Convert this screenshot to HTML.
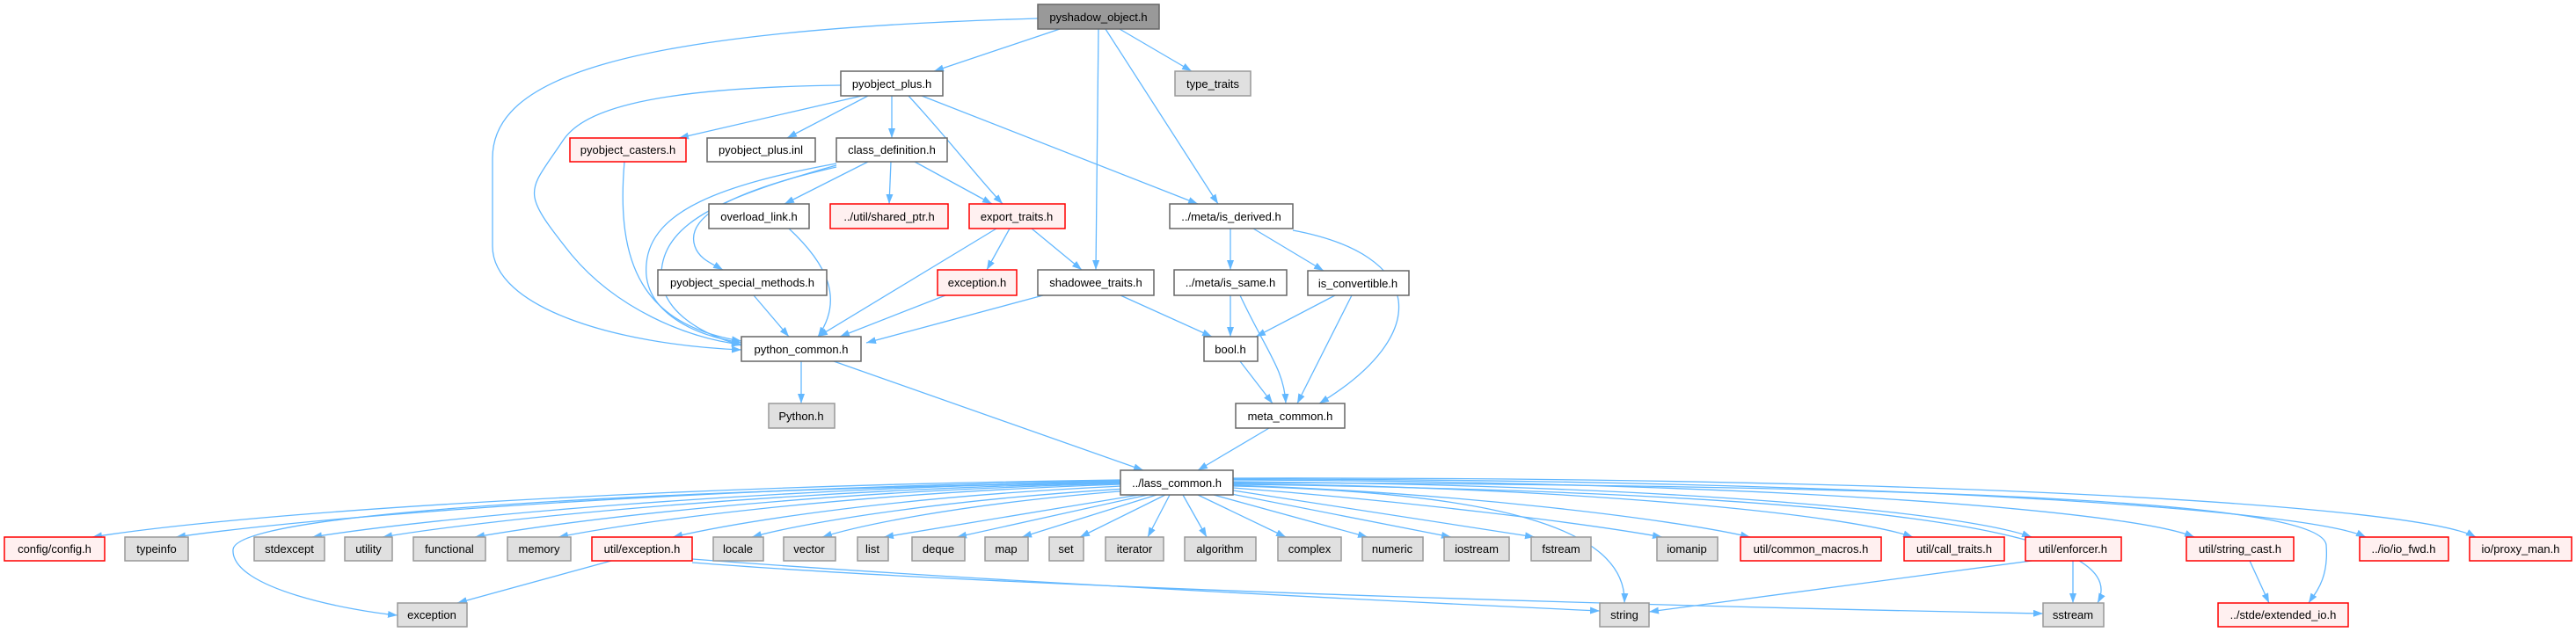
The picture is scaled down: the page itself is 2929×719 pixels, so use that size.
<!DOCTYPE html>
<html><head><meta charset="utf-8"><style>
html,body{margin:0;padding:0;background:#fff;}
svg{display:block;}
text{font-family:"Liberation Sans",sans-serif;font-size:13px;text-anchor:middle;fill:#000;}
.e{fill:none;stroke:#63b8ff;stroke-width:1.3;marker-end:url(#a);}
.n{fill:#fff;stroke:#666;stroke-width:1.5;}
.g{fill:#e0e0e0;stroke:#999;stroke-width:1.5;}
.r{fill:#fff0f0;stroke:#f00;stroke-width:1.5;}
.d{fill:#999;stroke:#666;stroke-width:1.5;}
</style></head><body>
<svg width="2929" height="719" viewBox="0 0 2929 719" xmlns="http://www.w3.org/2000/svg">
<defs><marker id="a" markerWidth="11" markerHeight="8" refX="11" refY="4" orient="auto" markerUnits="userSpaceOnUse"><path d="M0,0 L11,4 L0,8 z" fill="#63b8ff"/></marker></defs>
<g>
<path class="e" d="M1205,33 L1062,81"/>
<path class="e" d="M1273,33 L1355,81"/>
<path class="e" d="M1249,33 L1246,307"/>
<path class="e" d="M1257,33 L1385,232"/>
<path class="e" d="M1180,21 C700,35 560,90 560,180 L560,280 C560,350 700,392 843,398"/>
<path class="e" d="M956,97 C720,100 660,130 640,160 C600,220 590,215 650,290 C700,350 780,385 843,392"/>
<path class="e" d="M710,184 C700,300 730,370 843,388"/>
<path class="e" d="M980,109 L772,157"/>
<path class="e" d="M987,109 L895,157"/>
<path class="e" d="M1014,109 L1014,157"/>
<path class="e" d="M1033,109 C1080,160 1110,200 1140,232"/>
<path class="e" d="M1048,109 L1362,232"/>
<path class="e" d="M987,184 L892,232"/>
<path class="e" d="M1013,184 L1011,232"/>
<path class="e" d="M1040,184 L1128,232"/>
<path class="e" d="M951,190 C820,220 780,250 790,280 C795,295 810,300 822,307"/>
<path class="e" d="M951,186 C820,210 740,240 735,300 C730,350 780,380 843,390"/>
<path class="e" d="M951,188 C830,222 755,250 752,310 C750,350 790,378 843,393"/>
<path class="e" d="M897,260 C940,300 960,340 930,383"/>
<path class="e" d="M857,336 L897,383"/>
<path class="e" d="M1133,260 L930,383"/>
<path class="e" d="M1148,260 L1122,307"/>
<path class="e" d="M1173,260 L1230,307"/>
<path class="e" d="M1075,336 L955,383"/>
<path class="e" d="M1186,336 L985,390"/>
<path class="e" d="M1274,336 L1378,383"/>
<path class="e" d="M1399,260 L1399,307"/>
<path class="e" d="M1425,260 L1505,308"/>
<path class="e" d="M1470,262 C1620,290 1630,380 1500,459"/>
<path class="e" d="M1399,336 L1399,383"/>
<path class="e" d="M1410,336 C1440,400 1460,420 1462,459"/>
<path class="e" d="M1518,336 L1428,383"/>
<path class="e" d="M1537,336 L1475,459"/>
<path class="e" d="M1410,411 L1447,459"/>
<path class="e" d="M1443,487 L1362,535"/>
<path class="e" d="M911,411 L911,459"/>
<path class="e" d="M948,411 L1300,535"/>
<path class="e" d="M1274,546 C800,552 300,580 105,611"/>
<path class="e" d="M1274,547 C820,554 380,585 200,611"/>
<path class="e" d="M1274,548 C850,556 500,588 355,611"/>
<path class="e" d="M1274,549 C880,558 560,590 435,611"/>
<path class="e" d="M1274,550 C900,560 650,592 540,611"/>
<path class="e" d="M1274,551 C950,562 720,594 635,611"/>
<path class="e" d="M1276,553 C1000,566 830,596 765,611"/>
<path class="e" d="M1280,556 C1050,570 900,598 855,611"/>
<path class="e" d="M1285,558 C1080,574 970,600 935,611"/>
<path class="e" d="M1295,563 L1005,611"/>
<path class="e" d="M1305,563 L1088,611"/>
<path class="e" d="M1315,563 L1162,611"/>
<path class="e" d="M1325,563 L1228,611"/>
<path class="e" d="M1330,563 L1305,611"/>
<path class="e" d="M1345,563 L1372,611"/>
<path class="e" d="M1362,563 L1462,611"/>
<path class="e" d="M1380,563 L1555,611"/>
<path class="e" d="M1395,561 L1650,611"/>
<path class="e" d="M1402,558 L1745,611"/>
<path class="e" d="M1402,555 C1600,570 1800,595 1890,611"/>
<path class="e" d="M1402,552 C1650,560 1900,590 1990,611"/>
<path class="e" d="M1402,550 C1800,555 2100,585 2175,611"/>
<path class="e" d="M1402,548 C1900,552 2230,582 2310,611"/>
<path class="e" d="M1402,546 C2000,548 2420,580 2495,611"/>
<path class="e" d="M1402,545 C2100,545 2620,578 2690,611"/>
<path class="e" d="M1402,544 C2200,542 2750,575 2815,611"/>
<path class="e" d="M1402,553 C1700,560 1850,600 1847,686"/>
<path class="e" d="M1402,551 C2100,560 2430,600 2385,686"/>
<path class="e" d="M1402,549 C2300,552 2640,575 2645,620 C2648,660 2632,675 2625,686"/>
<path class="e" d="M1274,549 C800,556 270,580 265,625 C262,670 400,695 452,700"/>
<path class="e" d="M695,638 L520,686"/>
<path class="e" d="M787,636 C1100,660 1600,685 1819,695"/>
<path class="e" d="M787,640 C1200,672 2000,692 2323,698"/>
<path class="e" d="M2310,638 L1875,696"/>
<path class="e" d="M2357,638 L2357,686"/>
<path class="e" d="M2558,638 L2580,686"/>
</g>
<g>
<rect class="d" x="1180" y="5" width="138" height="28"/><text x="1249" y="24">pyshadow_object.h</text>
<rect class="n" x="956" y="81" width="116" height="28"/><text x="1014" y="100">pyobject_plus.h</text>
<rect class="g" x="1336" y="81" width="86" height="28"/><text x="1379" y="100">type_traits</text>
<rect class="r" x="648" y="157" width="132" height="27"/><text x="714" y="175">pyobject_casters.h</text>
<rect class="n" x="804" y="157" width="123" height="27"/><text x="865" y="175">pyobject_plus.inl</text>
<rect class="n" x="951" y="157" width="126" height="27"/><text x="1014" y="175">class_definition.h</text>
<rect class="n" x="806" y="232" width="114" height="28"/><text x="863" y="251">overload_link.h</text>
<rect class="r" x="944" y="232" width="134" height="28"/><text x="1011" y="251">../util/shared_ptr.h</text>
<rect class="r" x="1102" y="232" width="109" height="28"/><text x="1156" y="251">export_traits.h</text>
<rect class="n" x="1330" y="232" width="140" height="28"/><text x="1400" y="251">../meta/is_derived.h</text>
<rect class="n" x="748" y="307" width="192" height="29"/><text x="844" y="326">pyobject_special_methods.h</text>
<rect class="r" x="1066" y="307" width="90" height="29"/><text x="1111" y="326">exception.h</text>
<rect class="n" x="1180" y="307" width="132" height="29"/><text x="1246" y="326">shadowee_traits.h</text>
<rect class="n" x="1335" y="307" width="128" height="29"/><text x="1399" y="326">../meta/is_same.h</text>
<rect class="n" x="1487" y="308" width="115" height="28"/><text x="1544" y="327">is_convertible.h</text>
<rect class="n" x="843" y="383" width="136" height="28"/><text x="911" y="402">python_common.h</text>
<rect class="n" x="1369" y="383" width="61" height="28"/><text x="1399" y="402">bool.h</text>
<rect class="g" x="874" y="459" width="75" height="28"/><text x="911" y="478">Python.h</text>
<rect class="n" x="1405" y="459" width="124" height="28"/><text x="1467" y="478">meta_common.h</text>
<rect class="n" x="1274" y="535" width="128" height="28"/><text x="1338" y="554">../lass_common.h</text>
<rect class="r" x="5" y="611" width="114" height="27"/><text x="62" y="629">config/config.h</text>
<rect class="g" x="142" y="611" width="72" height="27"/><text x="178" y="629">typeinfo</text>
<rect class="g" x="289" y="611" width="80" height="27"/><text x="329" y="629">stdexcept</text>
<rect class="g" x="392" y="611" width="54" height="27"/><text x="419" y="629">utility</text>
<rect class="g" x="470" y="611" width="82" height="27"/><text x="511" y="629">functional</text>
<rect class="g" x="577" y="611" width="72" height="27"/><text x="613" y="629">memory</text>
<rect class="r" x="673" y="611" width="114" height="27"/><text x="730" y="629">util/exception.h</text>
<rect class="g" x="811" y="611" width="57" height="27"/><text x="839" y="629">locale</text>
<rect class="g" x="891" y="611" width="59" height="27"/><text x="920" y="629">vector</text>
<rect class="g" x="975" y="611" width="35" height="27"/><text x="992" y="629">list</text>
<rect class="g" x="1037" y="611" width="60" height="27"/><text x="1067" y="629">deque</text>
<rect class="g" x="1120" y="611" width="49" height="27"/><text x="1144" y="629">map</text>
<rect class="g" x="1193" y="611" width="39" height="27"/><text x="1212" y="629">set</text>
<rect class="g" x="1257" y="611" width="66" height="27"/><text x="1290" y="629">iterator</text>
<rect class="g" x="1347" y="611" width="81" height="27"/><text x="1387" y="629">algorithm</text>
<rect class="g" x="1453" y="611" width="72" height="27"/><text x="1489" y="629">complex</text>
<rect class="g" x="1549" y="611" width="69" height="27"/><text x="1583" y="629">numeric</text>
<rect class="g" x="1642" y="611" width="74" height="27"/><text x="1679" y="629">iostream</text>
<rect class="g" x="1741" y="611" width="68" height="27"/><text x="1775" y="629">fstream</text>
<rect class="g" x="1884" y="611" width="69" height="27"/><text x="1918" y="629">iomanip</text>
<rect class="r" x="1979" y="611" width="160" height="27"/><text x="2059" y="629">util/common_macros.h</text>
<rect class="r" x="2165" y="611" width="114" height="27"/><text x="2222" y="629">util/call_traits.h</text>
<rect class="r" x="2303" y="611" width="109" height="27"/><text x="2357" y="629">util/enforcer.h</text>
<rect class="r" x="2486" y="611" width="122" height="27"/><text x="2547" y="629">util/string_cast.h</text>
<rect class="r" x="2683" y="611" width="101" height="27"/><text x="2733" y="629">../io/io_fwd.h</text>
<rect class="r" x="2808" y="611" width="116" height="27"/><text x="2866" y="629">io/proxy_man.h</text>
<rect class="g" x="452" y="686" width="79" height="27"/><text x="491" y="704">exception</text>
<rect class="g" x="1819" y="686" width="56" height="27"/><text x="1847" y="704">string</text>
<rect class="g" x="2323" y="686" width="69" height="27"/><text x="2357" y="704">sstream</text>
<rect class="r" x="2522" y="686" width="148" height="27"/><text x="2596" y="704">../stde/extended_io.h</text>
</g>
</svg>
</body></html>
